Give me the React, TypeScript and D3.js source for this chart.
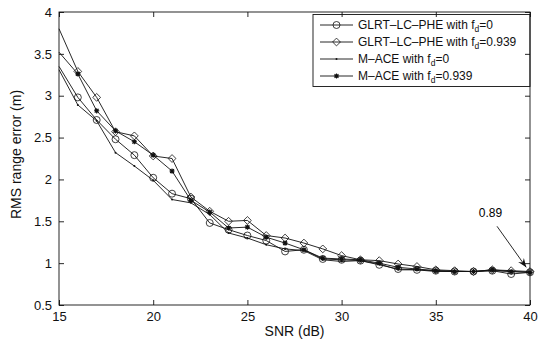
import React, { useEffect, useRef } from 'react';
import * as d3 from 'd3';

// SNR values (dB)
const snr = [15, 16, 17, 18, 19, 20, 21, 22, 23, 24, 25, 26, 27, 28, 29, 30, 31, 32, 33, 34, 35, 36, 37, 38, 39, 40];

// RMS range error (m) for each curve
const glrtFd0 = [3.35, 2.98, 2.71, 2.48, 2.29, 2.02, 1.83, 1.77, 1.48, 1.40, 1.33, 1.27, 1.14, 1.16, 1.05, 1.04, 1.03, 0.98, 0.93, 0.92, 0.91, 0.90, 0.90, 0.91, 0.87, 0.89];
const glrtFd939 = [3.80, 3.29, 2.98, 2.57, 2.52, 2.28, 2.25, 1.79, 1.62, 1.50, 1.51, 1.33, 1.30, 1.24, 1.17, 1.09, 1.04, 1.03, 0.99, 0.96, 0.92, 0.91, 0.90, 0.92, 0.91, 0.90];
const maceFd0 = [3.31, 2.89, 2.70, 2.32, 2.16, 1.99, 1.76, 1.72, 1.58, 1.36, 1.30, 1.22, 1.17, 1.15, 1.04, 1.02, 1.03, 0.99, 0.92, 0.92, 0.90, 0.90, 0.90, 0.91, 0.90, 0.89];
const maceFd939 = [3.52, 3.26, 2.82, 2.58, 2.45, 2.29, 2.10, 1.75, 1.61, 1.42, 1.43, 1.31, 1.24, 1.16, 1.06, 1.05, 1.04, 1.00, 0.95, 0.93, 0.91, 0.90, 0.90, 0.92, 0.90, 0.89];

const xTicks = [15, 20, 25, 30, 35, 40];
const yTicks = [0.5, 1, 1.5, 2, 2.5, 3, 3.5, 4];

// legend text parts: prefix, subscript, suffix
const legendPre = ['GLRT–LC–PHE with f', 'GLRT–LC–PHE with f', 'M–ACE with f', 'M–ACE with f'];
const legendSub = ['d', 'd', 'd', 'd'];
const legendPost = ['=0', '=0.939', '=0', '=0.939'];
const markers = ['circle', 'diamond', 'dot', 'star'];

// annotation arrow (data coordinates)
const noteText = '0.89';
const noteTextPos = [37.9, 1.6];
const noteTail = [38.25, 1.44];
const noteHead = [39.8, 0.95];

const W = 542;
const H = 339;
const FONT = '"Liberation Sans", Arial, Helvetica, sans-serif';

function drawMarker(g: any, type: string, x: number, y: number) {
  if (type === 'circle') {
    g.append('circle').attr('cx', x).attr('cy', y).attr('r', 3.5)
      .attr('fill', 'none').attr('stroke', '#111').attr('stroke-width', 0.8);
  } else if (type === 'diamond') {
    const s = 3.9;
    g.append('path').attr('d', `M${x},${y - s}L${x + s},${y}L${x},${y + s}L${x - s},${y}Z`)
      .attr('fill', 'none').attr('stroke', '#111').attr('stroke-width', 0.8);
  } else if (type === 'dot') {
    g.append('circle').attr('cx', x).attr('cy', y).attr('r', 1).attr('fill', '#111');
  } else {
    const s = 2.6;
    const d = s * 0.75;
    g.append('path')
      .attr('d', `M${x - s},${y}L${x + s},${y}M${x},${y - s}L${x},${y + s}M${x - d},${y - d}L${x + d},${y + d}M${x - d},${y + d}L${x + d},${y - d}`)
      .attr('stroke', '#111').attr('stroke-width', 1.1);
    g.append('circle').attr('cx', x).attr('cy', y).attr('r', 1.6).attr('fill', '#111');
  }
}

function Chart() {
  const svgRef = useRef(null);

  useEffect(() => {
    const svg = d3.select(svgRef.current);
    svg.selectAll('*').remove();

    const left = 59, right = 530, top = 12, bottom = 305;

    const x = d3.scaleLinear().domain([15, 40]).range([left, right]);
    const y = d3.scaleLinear().domain([0.5, 4]).range([bottom, top]);

    svg.append('rect').attr('width', W).attr('height', H).attr('fill', '#fff');

    // curves
    const series = [glrtFd0, glrtFd939, maceFd0, maceFd939];
    const line = d3.line<number>()
      .x((d, i) => x(snr[i]))
      .y(d => y(d));

    const plot = svg.append('g');
    series.forEach((vals, k) => {
      plot.append('path')
        .datum(vals)
        .attr('d', line)
        .attr('fill', 'none')
        .attr('stroke', '#111')
        .attr('stroke-width', 0.9);
      // the first point sits on the axis edge and shows no marker in the original
      vals.forEach((v, i) => { if (i > 0) drawMarker(plot, markers[k], x(snr[i]), y(v)); });
    });

    // annotation
    const ax1 = x(noteTail[0]), ay1 = y(noteTail[1]);
    const ax2 = x(noteHead[0]), ay2 = y(noteHead[1]);
    svg.append('line')
      .attr('x1', ax1).attr('y1', ay1).attr('x2', ax2).attr('y2', ay2)
      .attr('stroke', '#111').attr('stroke-width', 0.9);
    const ang = Math.atan2(ay2 - ay1, ax2 - ax1);
    const hl = 9, hw = 3.5;
    const bx = ax2 - hl * Math.cos(ang), by = ay2 - hl * Math.sin(ang);
    svg.append('path')
      .attr('d', `M${ax2},${ay2}L${bx - hw * Math.sin(ang)},${by + hw * Math.cos(ang)}L${bx + 3 * Math.cos(ang)},${by + 3 * Math.sin(ang)}L${bx + hw * Math.sin(ang)},${by - hw * Math.cos(ang)}Z`)
      .attr('fill', '#111');
    svg.append('text')
      .attr('x', x(noteTextPos[0])).attr('y', y(noteTextPos[1]) + 4)
      .attr('text-anchor', 'middle')
      .attr('font-family', FONT).attr('font-size', 12)
      .text(noteText);

    // legend
    const lg = svg.append('g');
    const lx = 313, ly = 14.5, lw = right - lx, lh = 72;
    lg.append('rect').attr('x', lx).attr('y', ly).attr('width', lw).attr('height', lh)
      .attr('fill', '#fff').attr('stroke', '#111').attr('stroke-width', 0.9);
    legendPre.forEach((pre, i) => {
      const cy = ly + 10.5 + i * 17;
      lg.append('line').attr('x1', lx + 7).attr('x2', lx + 40).attr('y1', cy).attr('y2', cy)
        .attr('stroke', '#111').attr('stroke-width', 0.9);
      drawMarker(lg, markers[i], lx + 23.5, cy);
      const t = lg.append('text')
        .attr('x', lx + 45).attr('y', cy + 4.3)
        .attr('font-family', FONT).attr('font-size', 12).attr('fill', '#111');
      t.append('tspan').text(pre);
      t.append('tspan').attr('dy', 3).attr('font-size', 8.5).text(legendSub[i]);
      t.append('tspan').attr('dy', -3).text(legendPost[i]);
    });

    // axes
    const xAxis = d3.axisBottom(x).tickValues(xTicks).tickSizeInner(-5).tickSizeOuter(0).tickPadding(7)
      .tickFormat(d3.format('d'));
    const gx = svg.append('g').attr('transform', `translate(0,${bottom})`).call(xAxis);
    const yAxis = d3.axisLeft(y).tickValues(yTicks).tickSizeInner(-5).tickSizeOuter(0).tickPadding(7)
      .tickFormat(d => String(d));
    const gy = svg.append('g').attr('transform', `translate(${left},0)`).call(yAxis);
    const xTop = d3.axisTop(x).tickValues(xTicks).tickSizeInner(-5).tickSizeOuter(0).tickFormat(() => '');
    const gxt = svg.append('g').attr('transform', `translate(0,${top})`).call(xTop);
    const yRight = d3.axisRight(y).tickValues(yTicks).tickSizeInner(-5).tickSizeOuter(0).tickFormat(() => '');
    const gyr = svg.append('g').attr('transform', `translate(${right},0)`).call(yRight);

    [gx, gy, gxt, gyr].forEach(g => {
      g.select('.domain').remove();
      g.selectAll('line').attr('stroke', '#111').attr('stroke-width', 0.9);
      g.selectAll('text').attr('font-family', FONT).attr('font-size', 13).attr('fill', '#111');
    });

    svg.append('rect')
      .attr('x', left).attr('y', top).attr('width', right - left).attr('height', bottom - top)
      .attr('fill', 'none').attr('stroke', '#111').attr('stroke-width', 0.9);

    // axis labels
    svg.append('text')
      .attr('x', (left + right) / 2).attr('y', 336)
      .attr('text-anchor', 'middle')
      .attr('font-family', FONT).attr('font-size', 14).attr('fill', '#111')
      .text('SNR (dB)');
    svg.append('text')
      .attr('transform', `translate(21,${(top + bottom) / 2 - 4}) rotate(-90)`)
      .attr('text-anchor', 'middle')
      .attr('font-family', FONT).attr('font-size', 14).attr('fill', '#111')
      .text('RMS range error (m)');
  }, []);

  return (
    <svg ref={svgRef} width={W} height={H} style={{ position: 'absolute', left: 0, top: 0 }}></svg>
  );
}

export default function App() {
  return <Chart />;
}
